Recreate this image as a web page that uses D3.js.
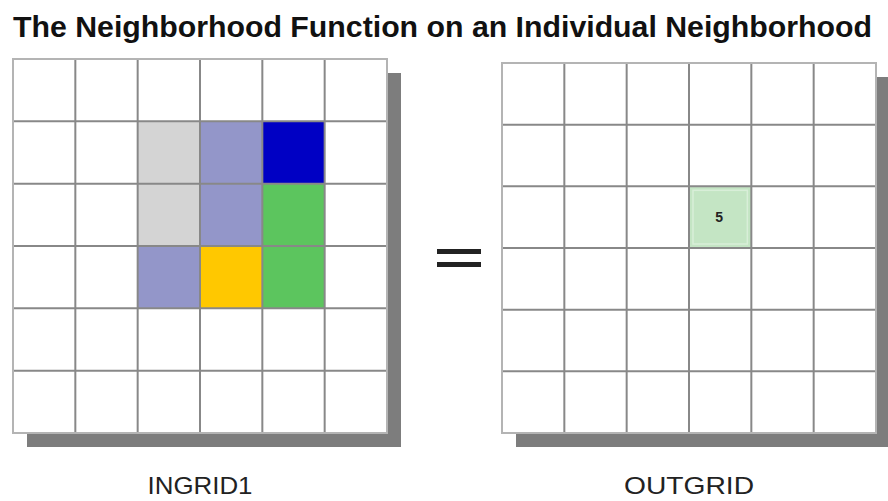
<!DOCTYPE html>
<html>
<head>
<meta charset="utf-8">
<script src="https://cdn.jsdelivr.net/npm/d3@7"></script>
<style>
  html, body { margin: 0; padding: 0; background: #fff; }
  svg { display: block; }
</style>
</head>
<body>
<svg id="chart" width="888" height="501"></svg>
<script>
// ---- data ----
const titleText = "The Neighborhood Function on an Individual Neighborhood";
const gridLabels = ["INGRID1", "OUTGRID"];
const gridIndex = [0, 1, 2, 3, 4, 5];

// INGRID1 coloured cells
const inRows   = [1, 1, 1, 2, 2, 2, 3, 3, 3];
const inCols   = [2, 3, 4, 2, 3, 4, 2, 3, 4];
const inColors = ["#d4d4d4", "#9396c9", "#0000c4",
                  "#d4d4d4", "#9396c9", "#5cc55e",
                  "#9396c9", "#ffc800", "#5cc55e"];

// OUTGRID result cell
const outRows   = [2];
const outCols   = [3];
const outValues = [5];
const outColors = ["#c4e5c4"];

// ---- drawing ----
const svg = d3.select("#chart");

svg.append("text")
  .attr("x", 13).attr("y", 37)
  .attr("font-family", "Liberation Sans, Arial, sans-serif")
  .attr("font-weight", "bold")
  .attr("font-size", 29)
  .attr("fill", "#111")
  .attr("textLength", 859)
  .attr("lengthAdjust", "spacingAndGlyphs")
  .text(titleText);

function drawGrid(x0, x1, y0, y1, cells, label, labelWidth) {
  const x = d3.scaleBand().domain(gridIndex).range([x0, x1]).padding(0);
  const y = d3.scaleBand().domain(gridIndex).range([y0, y1]).padding(0);
  const g = svg.append("g");
  // shadow
  g.append("rect")
    .attr("x", x0 + 14).attr("y", y0 + 14)
    .attr("width", x1 - x0).attr("height", y1 - y0)
    .attr("fill", "#7d7d7d");
  // background
  g.append("rect")
    .attr("x", x0).attr("y", y0)
    .attr("width", x1 - x0).attr("height", y1 - y0)
    .attr("fill", "#fff");
  // cells
  g.selectAll("rect.cell").data(cells).join("rect")
    .attr("class", "cell")
    .attr("x", d => x(d.c)).attr("y", d => y(d.r))
    .attr("width", x.bandwidth()).attr("height", y.bandwidth())
    .attr("fill", d => d.color);
  // inner grid lines
  const inner = gridIndex.slice(1);
  g.selectAll("line.v").data(inner).join("line")
    .attr("x1", d => x(d)).attr("x2", d => x(d))
    .attr("y1", y0).attr("y2", y1)
    .attr("stroke", "#888").attr("stroke-width", 2);
  g.selectAll("line.h").data(inner).join("line")
    .attr("y1", d => y(d)).attr("y2", d => y(d))
    .attr("x1", x0).attr("x2", x1)
    .attr("stroke", "#888").attr("stroke-width", 2);
  // outer border
  g.append("rect")
    .attr("x", x0).attr("y", y0)
    .attr("width", x1 - x0).attr("height", y1 - y0)
    .attr("fill", "none").attr("stroke", "#b4b4b4").attr("stroke-width", 2);
  // label
  svg.append("text")
    .attr("x", (x0 + x1) / 2).attr("y", 494)
    .attr("text-anchor", "middle")
    .attr("font-family", "Liberation Sans, Arial, sans-serif")
    .attr("font-size", 24)
    .attr("fill", "#222")
    .attr("textLength", labelWidth)
    .attr("lengthAdjust", "spacingAndGlyphs")
    .text(label);
  return {x, y, g};
}

const inCells = inRows.map((r, i) => ({r, c: inCols[i], color: inColors[i]}));
drawGrid(13, 387, 59, 433, inCells, gridLabels[0], 105);

const outCells = outRows.map((r, i) => ({r, c: outCols[i], color: outColors[i], v: outValues[i]}));
const right = drawGrid(502, 876, 63, 433, outCells, gridLabels[1], 130);

// inner border on the result cell and its value
right.g.selectAll("rect.inb").data(outCells).join("rect")
  .attr("x", d => right.x(d.c) + 4).attr("y", d => right.y(d.r) + 4)
  .attr("width", right.x.bandwidth() - 8).attr("height", right.y.bandwidth() - 8)
  .attr("fill", "none").attr("stroke", "#d8eed8").attr("stroke-width", 1.5);
right.g.selectAll("text.val").data(outCells).join("text")
  .attr("x", d => right.x(d.c) + right.x.bandwidth() / 2 - 1)
  .attr("y", d => right.y(d.r) + right.y.bandwidth() / 2 + 5)
  .attr("text-anchor", "middle")
  .attr("font-family", "Liberation Sans, Arial, sans-serif")
  .attr("font-weight", "bold")
  .attr("font-size", 14)
  .attr("fill", "#222")
  .text(d => d.v);

// equals sign
const eqBars = [0, 1];
svg.selectAll("rect.eq").data(eqBars).join("rect")
  .attr("class", "eq")
  .attr("x", 437).attr("y", d => 249 + d * 13)
  .attr("width", 44).attr("height", 5)
  .attr("fill", "#222");
</script>
</body>
</html>
